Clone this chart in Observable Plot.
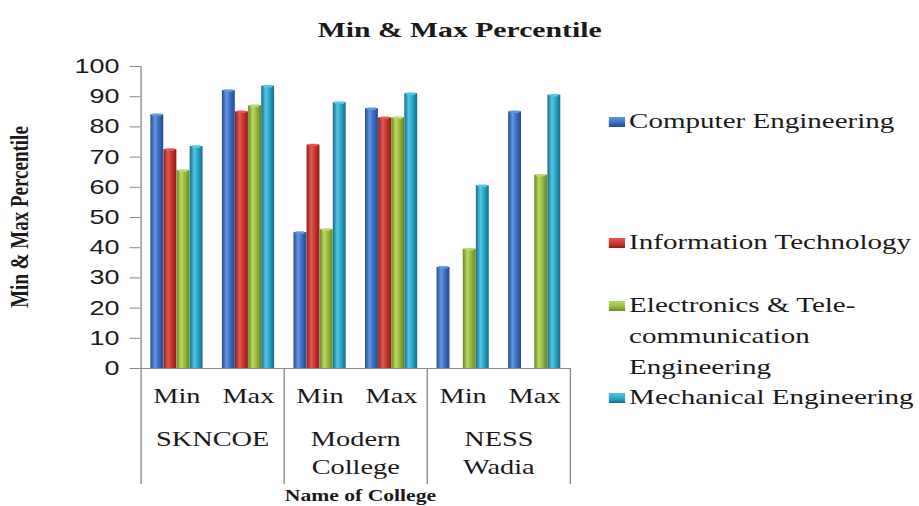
<!DOCTYPE html>
<html>
<head>
<meta charset="utf-8">
<script src="https://cdn.jsdelivr.net/npm/d3@7"></script>
<script src="https://cdn.jsdelivr.net/npm/@observablehq/plot@0.6"></script>
<style>
  html, body { margin: 0; padding: 0; background: #fff; }
  #stage { position: absolute; left: 0; top: 0; width: 681px; height: 506px; transform: scaleX(1.35); transform-origin: 0 0; color: #1a1a1a; }
  #title { position: absolute; top: 17px; left: 0; width: 681px; text-align: center; font: bold 22px "Liberation Serif", serif; }
  #chart { position: absolute; top: 50px; left: 0; }
  #ytitle { position: absolute; left: 15px; top: 217px; transform: translate(-50%, -50%) rotate(-90deg); white-space: nowrap; font: bold 19px "Liberation Serif", serif; }
  #xtitle { position: absolute; left: 267px; top: 487px; transform: translateX(-50%); white-space: nowrap; font: bold 16px "Liberation Serif", serif; }
  .item { position: absolute; left: 451px; font: 21.5px/31px "Liberation Serif", serif; white-space: nowrap; }
  .item.wrap { width: 195px; white-space: normal; }
  .sw { position: absolute; left: 0; top: 11px; width: 12px; height: 10px; }
  .lbl { margin-left: 15px; }
</style>
</head>
<body>
<div id="stage">
  <div id="title"></div>
  <div id="chart"></div>
  <div id="ytitle"></div>
  <div id="xtitle"></div>
  <div id="legend"></div>
</div>
<script>
// ---- data ----
const chartTitle = "Min & Max Percentile";
const yTitle = "Min & Max Percentile";
const xTitle = "Name of College";
const colleges = ["SKNCOE", "Modern College", "NESS Wadia"];
const bounds = ["Min", "Max"];
const series = ["Computer Engineering", "Information Technology", "Electronics & Tele-communication Engineering", "Mechanical Engineering"];
const yTicks = [0, 10, 20, 30, 40, 50, 60, 70, 80, 90, 100];
// values in order: SKNCOE Min, SKNCOE Max, Modern Min, Modern Max, NESS Min, NESS Max
const computerEngineering = [84, 92, 45, 86, 33.5, 85];
const informationTechnology = [72.5, 85, 74, 83, null, null];
const electronicsTelecom = [65.5, 87, 46, 83, 39.5, 64];
const mechanicalEngineering = [73.5, 93.5, 88, 91, 60.5, 90.5];
const colors = ["#3a6cc0", "#c8322c", "#94b93a", "#27a4c7"];
const lights = ["#6296e2", "#e45a50", "#b9d866", "#55c6e4"];
const darks = ["#234a8c", "#8a1e1a", "#67861f", "#156b88"];

const seriesValues = [computerEngineering, informationTechnology, electronicsTelecom, mechanicalEngineering];
const rows = [];
seriesValues.forEach((vals, i) => {
  vals.forEach((v, k) => {
    if (v != null) rows.push({series: series[i], si: i, college: colleges[Math.floor(k / 2)], bound: bounds[k % 2], value: v});
  });
});

// ---- layout ----
const W = 445, H = 456, ML = 103, MR = 23, MT = 16, MB = 138;
const plotH = H - MT - MB;
const band = (W - ML - MR) / colleges.length / bounds.length;
const off = 7.4, bw = 9.7;
const gray = "#8a8a8a";

const barMarks = series.map((s, i) => Plot.barY(rows.filter(d => d.si === i), {
  fx: "college", x: "bound", y: "value",
  fill: `url(#grad${i})`,
  insetLeft: off + bw * i,
  insetRight: band - off - bw * (i + 1)
}));
const capMarks = series.map((s, i) => Plot.tickY(rows.filter(d => d.si === i), {
  fx: "college", x: "bound", y: "value",
  stroke: lights[i], strokeWidth: 2.5,
  insetLeft: off + bw * i + 1.5,
  insetRight: band - off - bw * (i + 1) + 1.5
}));

const chart = Plot.plot({
  width: W, height: H,
  marginLeft: ML, marginRight: MR, marginTop: MT, marginBottom: MB,
  style: {fontFamily: "Liberation Serif", fontSize: "20px", color: "#1a1a1a", background: "transparent", overflow: "visible"},
  fx: {domain: colleges, padding: 0},
  x: {domain: bounds, padding: 0},
  y: {domain: [0, 100]},
  marks: [
    Plot.axisY(yTicks, {tickSize: 8, tickPadding: 8, fontFamily: "Liberation Sans", fontSize: 20, stroke: gray, label: null, tickFormat: d => d}),
    Plot.axisX({tickSize: 0, tickPadding: 20, fontSize: 21, label: null}),
    Plot.axisFx({anchor: "bottom", tickSize: 0, tickPadding: 58, fontSize: 21, lineHeight: 1.33, label: null, tickFormat: d => d.replace(" ", "\n")}),
    ...barMarks,
    ...capMarks,
    Plot.frame({anchor: "left", facetAnchor: "left", stroke: gray}),
    Plot.frame({anchor: "bottom", stroke: gray}),
    Plot.frame({anchor: "left", stroke: gray, insetTop: plotH, insetBottom: -115}),
    Plot.frame({anchor: "right", facetAnchor: "right", stroke: gray, insetTop: plotH, insetBottom: -115})
  ]
});

// gradients for the cylinder look
const defs = d3.select(chart).insert("defs", ":first-child");
colors.forEach((c, i) => {
  const g = defs.append("linearGradient").attr("id", `grad${i}`).attr("x1", 0).attr("x2", 1).attr("y1", 0).attr("y2", 0);
  g.append("stop").attr("offset", "0%").attr("stop-color", darks[i]);
  g.append("stop").attr("offset", "35%").attr("stop-color", lights[i]);
  g.append("stop").attr("offset", "65%").attr("stop-color", c);
  g.append("stop").attr("offset", "100%").attr("stop-color", darks[i]);
});

document.getElementById("chart").appendChild(chart);
document.getElementById("title").textContent = chartTitle;
document.getElementById("ytitle").textContent = yTitle;
document.getElementById("xtitle").textContent = xTitle;

// legend
const legendTops = [106, 227, 290, 382];
const legend = document.getElementById("legend");
series.forEach((s, i) => {
  const item = document.createElement("div");
  item.className = i === 2 ? "item wrap" : "item";
  item.style.top = legendTops[i] + "px";
  const sw = document.createElement("div");
  sw.className = "sw";
  sw.style.background = `linear-gradient(to bottom, ${lights[i]}, ${colors[i]} 60%, ${darks[i]})`;
  const lbl = document.createElement("div");
  lbl.className = "lbl";
  lbl.textContent = s;
  item.appendChild(sw);
  item.appendChild(lbl);
  legend.appendChild(item);
});
</script>
</body>
</html>
